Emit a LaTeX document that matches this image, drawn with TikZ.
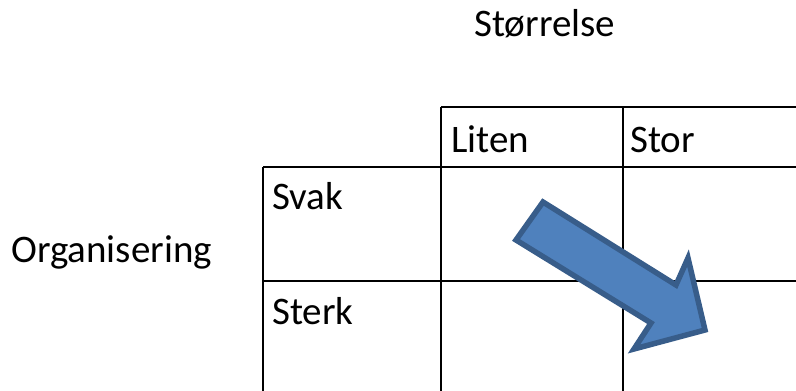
\documentclass[tikz,border=0pt]{standalone}
\usepackage{fontspec}
\setmainfont{Carlito}
\definecolor{arrowfill}{HTML}{4F81BD}
\definecolor{arrowline}{HTML}{385D8A}
\begin{document}
\begin{tikzpicture}[x=1pt,y=-1pt,
  gridline/.style={line width=2.8pt,black},
  label/.style={anchor=base west,inner sep=0pt,font=\fontsize{39}{44}\selectfont},
  bigarrow/.style={fill=arrowfill,draw=arrowline,line width=5.5pt,line join=miter}]
\useasboundingbox (0,0) rectangle (796,391);
\begin{scope}
\clip (0,0) rectangle (796,391);
% table rules
\draw[gridline] (441,107) -- (800,107);
\draw[gridline] (263,167) -- (800,167);
\draw[gridline] (263,281) -- (800,281);
\draw[gridline] (263,167) -- (263,395);
\draw[gridline] (441,107) -- (441,395);
\draw[gridline] (623,107) -- (623,395);
\end{scope}
% axis titles
\node[label] (size) at (474,36) {Størrelse};
\node[label] (org) at (11,262) {Organisering};
% column and row headings
\node[label] (small) at (451,152) {Liten};
\node[label] (large) at (630,152) {Stor};
\node[label] (weak) at (272,209) {Svak};
\node[label] (strong) at (272,324) {Sterk};
% block arrow across the cells
\draw[bigarrow] (543,202) -- (676,285) -- (688,258) -- (705,330) -- (634,349) -- (651,323) -- (516,240) -- cycle;
\end{tikzpicture}
\end{document}
